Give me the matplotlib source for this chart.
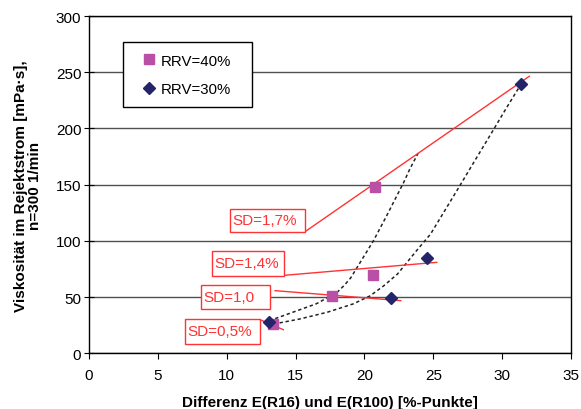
import matplotlib
matplotlib.use("Agg")
import matplotlib.pyplot as plt
from matplotlib.patches import Rectangle

plt.rcParams['font.family'] = ['Liberation Sans', 'DejaVu Sans']

# measured points
rrv40_x = [20.77, 20.65, 17.62, 13.38]
rrv40_y = [147.6, 69.6, 50.7, 26.1]
rrv30_x = [31.35, 24.52, 21.91, 13.09]
rrv30_y = [239.5, 84.5, 49.5, 28.1]

# dotted trend curves
trend40_x = [13.1, 14.8, 16.5, 18.0, 18.5, 19.0, 20.65, 21.6, 22.35, 22.85, 23.3, 23.9]
trend40_y = [29, 36.5, 44, 54, 60, 67, 100, 122, 140, 152, 164, 178]
trend30_x = [13.4, 15.3, 17.3, 19.2, 20.4, 21.4, 22.4, 23.0, 23.9, 24.8, 26.9, 27.9, 29.4, 30.3, 31.3]
trend30_y = [26, 30.5, 36.5, 44, 51, 60, 70.5, 79.5, 93, 106, 148.5, 169, 199.5, 218, 238]

# red SD lines and their labels
sd_labels = ['SD=1,7%', 'SD=1,4%', 'SD=1,0', 'SD=0,5%']
sd_line_x = [(15.69, 31.97), (14.23, 25.25), (13.51, 22.64), (12.42, 14.11)]
sd_line_y = [(108.2, 246.4), (69.4, 80.9), (55.7, 46.8), (29.9, 21.0)]
sd_box = [(10.24, 107.9, 15.69, 128.7), (8.91, 69.0, 14.16, 91.3),
          (8.13, 39.4, 13.14, 61.0), (6.97, 8.3, 12.42, 30.5)]

red = '#FF3333'
fig = plt.figure(figsize=(5.81, 4.10), dpi=100)
ax = fig.add_axes([0.1532, 0.1359, 0.8296, 0.8226])

ax.set_xlim(0, 35)
ax.set_ylim(0, 300)
ax.set_xticks(range(0, 36, 5))
ax.set_yticks(range(0, 301, 50))
ax.set_axisbelow(True)
ax.yaxis.grid(True, color='#505050', lw=1)
ax.tick_params(labelsize=11, color='black')
ax.tick_params(axis='x', direction='out', length=4, pad=6.5)
ax.tick_params(axis='y', direction='inout', length=7, pad=2)
for s in ax.spines.values():
    s.set_color('black')
    s.set_linewidth(1)

ax.plot(trend40_x, trend40_y, color='#222222', lw=1.1, ls=(0, (2.2, 1.8)), zorder=2)
ax.plot(trend30_x, trend30_y, color='#222222', lw=1.1, ls=(0, (2.2, 1.8)), zorder=2)

for lx, ly in zip(sd_line_x, sd_line_y):
    ax.plot(lx, ly, color=red, lw=1, zorder=3)
for lab, (x0, y0, x1, y1) in zip(sd_labels, sd_box):
    ax.add_patch(Rectangle((x0, y0), x1 - x0, y1 - y0, facecolor='white',
                           edgecolor=red, lw=1, zorder=4))
    ax.text(x0 + 0.2, (y0 + y1) / 2, lab, color=red, fontsize=11,
            ha='left', va='center', zorder=5)

ax.plot(rrv40_x, rrv40_y, ls='none', marker='s', ms=7.5, color='#BA4FA6',
        label='RRV=40%', zorder=6)
ax.plot(rrv30_x, rrv30_y, ls='none', marker='D', ms=6, color='#24246B',
        label='RRV=30%', zorder=6)

ax.add_patch(Rectangle((0.07, 0.729), 0.2675, 0.193, transform=ax.transAxes,
                       facecolor='white', edgecolor='black', lw=1, zorder=7))
leg = ax.legend(loc='center', bbox_to_anchor=(0.2037, 0.8257), frameon=False,
                fontsize=10.8, handlelength=0.8, handletextpad=0.35,
                labelspacing=0.95, borderpad=0)
leg.set_zorder(8)

ax.set_xlabel('Differenz E(R16) und E(R100) [%-Punkte]', fontsize=11, fontweight='bold')
ax.xaxis.set_label_coords(0.5, -0.125)
ax.set_ylabel('Viskosität im Rejektstrom [mPa·s],\nn=300 1/min', fontsize=11,
              fontweight='bold', linespacing=1.05)
ax.yaxis.set_label_coords(-0.097, 0.5)

fig.savefig('out.png', dpi=100)
